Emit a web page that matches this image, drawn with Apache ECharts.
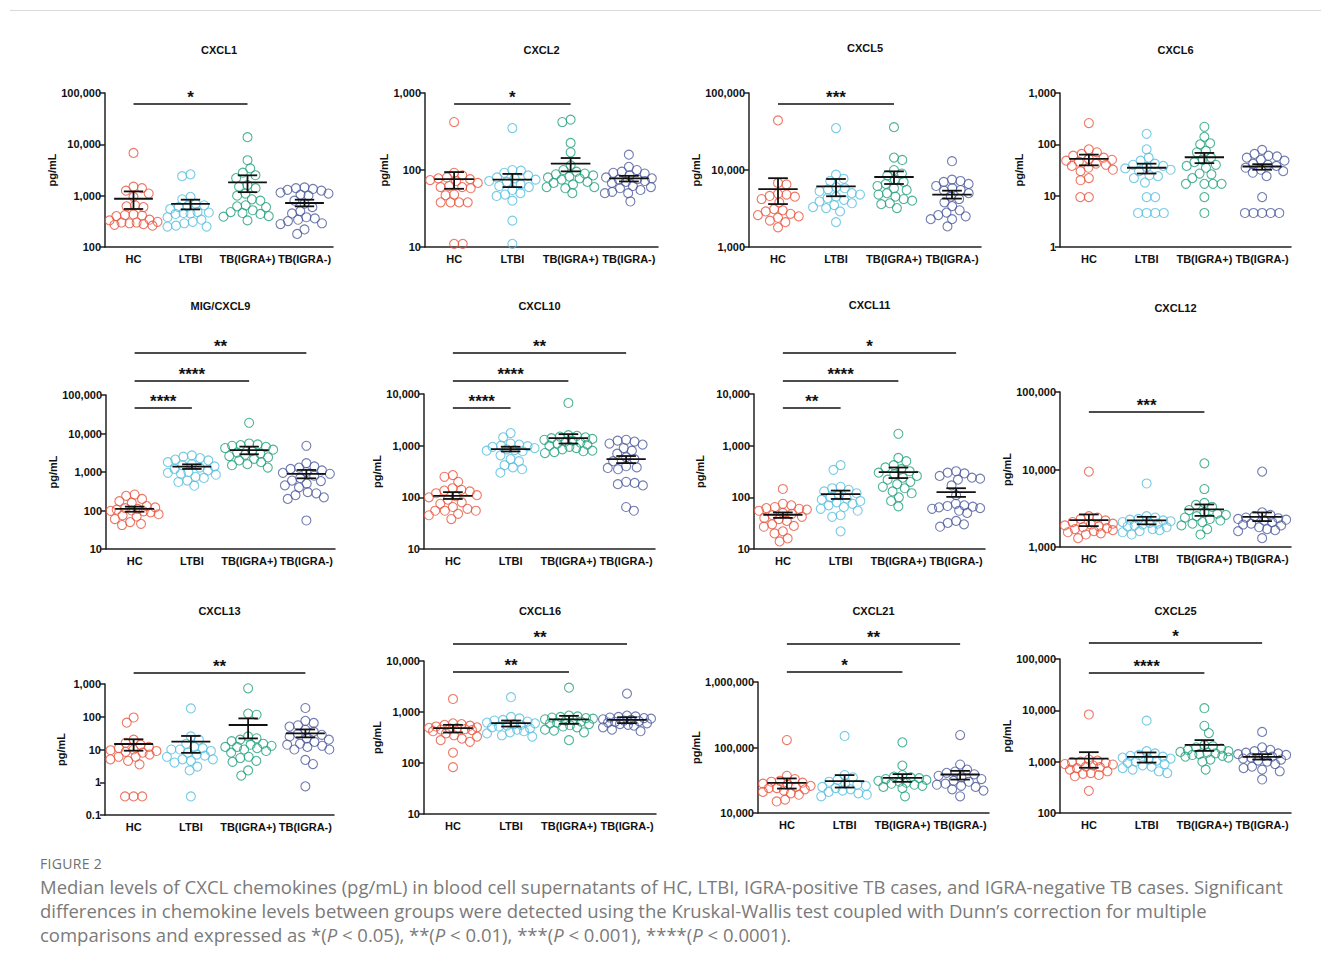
<!DOCTYPE html>
<html>
<head>
<meta charset="utf-8">
<script src="https://cdn.jsdelivr.net/npm/echarts@6/dist/echarts.min.js"></script>
<style>
  html, body { margin: 0; padding: 0; background: #fff; width: 1331px; height: 967px; overflow: hidden; }
  #chart { position: absolute; left: 0; top: 0; width: 1331px; height: 850px; }
  #frame { position: absolute; left: 10px; top: 10px; width: 1311px; height: 0; border-top: 1px solid #d9d9d9; z-index: 5; }
  #fig { position: absolute; left: 40px; top: 854px; font-family: "Open Sans", "Noto Sans", sans-serif; font-size: 14px; color: #707070; letter-spacing: 0.3px; }
  #cap { position: absolute; left: 40px; top: 875px; font-family: "Open Sans", "Noto Sans", sans-serif; font-size: 18.5px; line-height: 24px; color: #7a7a7a; white-space: nowrap; }
</style>
</head>
<body>
<div id="chart"></div>
<div id="frame"></div>
<div id="fig">FIGURE 2</div>
<div id="cap">Median levels of CXCL chemokines (pg/mL) in blood cell supernatants of HC, LTBI, IGRA-positive TB cases, and IGRA-negative TB cases. Significant<br>differences in chemokine levels between groups were detected using the Kruskal-Wallis test coupled with Dunn’s correction for multiple<br>comparisons and expressed as *(<i>P</i> &lt; 0.05), **(<i>P</i> &lt; 0.01), ***(<i>P</i> &lt; 0.001), ****(<i>P</i> &lt; 0.0001).</div>
<script>
// ---------------- DATA ----------------
const CATS = ['HC', 'LTBI', 'TB(IGRA+)', 'TB(IGRA-)'];
const PANELS = ['CXCL1', 'CXCL2', 'CXCL5', 'CXCL6', 'MIG/CXCL9', 'CXCL10', 'CXCL11', 'CXCL12', 'CXCL13', 'CXCL16', 'CXCL21', 'CXCL25'];
const Y_MIN = [100, 10, 1000, 1, 10, 10, 10, 1000, 0.1, 10, 10000, 100];
const Y_MAX = [100000, 1000, 100000, 1000, 100000, 10000, 10000, 100000, 1000, 10000, 1000000, 100000];

const CXCL1_HC   = [6800,1500,1400,1250,1100,950,650,620,600,430,420,410,400,340,330,310,300,300,290,280,270,260];
const CXCL1_LTBI = [2600,2400,950,850,700,650,620,600,550,480,470,460,450,440,380,340,310,290,260,250,250];
const CXCL1_TBP  = [13800,4900,3400,2800,2500,2200,1600,1500,1400,1100,1000,850,800,650,620,600,520,480,460,440,400,390,330];
const CXCL1_TBN  = [1450,1400,1350,1300,1250,1150,1100,1050,1000,800,700,600,500,450,380,360,340,320,290,280,220,180];

const CXCL2_HC   = [420,92,85,80,78,76,74,72,68,62,60,60,58,48,47,38,38,38,38,11,11];
const CXCL2_LTBI = [350,100,98,92,85,80,78,75,72,70,65,62,60,55,50,48,46,40,22,11];
const CXCL2_TBP  = [450,420,225,170,115,100,95,90,88,85,82,80,78,75,70,68,65,60,60,58,50];
const CXCL2_TBN  = [158,110,100,95,92,90,85,80,78,76,75,72,70,68,62,60,58,55,52,50,50,39];

const CXCL5_HC   = [44000,6800,6500,4900,4800,4600,4500,4200,3800,3100,3000,2900,2700,2600,2500,2400,2200,2100,1800];
const CXCL5_LTBI = [35000,8700,7700,7200,6000,5800,5600,5300,5000,4800,4500,4300,4100,3900,3700,3500,3300,3200,2900,2100];
const CXCL5_TBP  = [36000,14500,13500,10000,9000,8500,7500,7000,6600,6200,5800,5500,5000,4800,4500,4200,4000,3700,3600,3200];
const CXCL5_TBN  = [13000,7500,7200,7000,6600,6200,5800,5500,5400,5000,4500,4200,3800,3400,3000,2800,2600,2500,2300,2300,1850];

const CXCL6_HC   = [260,80,70,65,60,55,52,50,48,46,42,40,38,35,32,30,22,20,9.4,9.4];
const CXCL6_LTBI = [160,80,55,48,42,40,38,36,34,32,30,25,24,22,18,9.4,9.4,4.6,4.6,4.6,4.6];
const CXCL6_TBP  = [220,140,105,100,75,70,55,50,45,40,38,35,27,26,22,17,17,17,17,9.4,4.6];
const CXCL6_TBN  = [78,65,60,58,55,50,48,42,40,38,35,32,30,28,24,9.4,4.6,4.6,4.6,4.6,4.6];

const CXCL9_HC   = [260,240,200,175,160,130,120,115,110,105,100,98,95,90,80,75,70,60,50,45,42];
const CXCL9_LTBI = [2700,2500,2300,2100,2000,1800,1600,1500,1400,1300,1200,1100,1000,950,900,850,750,700,600,550,440];
const CXCL9_TBP  = [19000,5500,5200,5000,4800,4500,4200,3800,3500,3200,3000,2800,2600,2400,2200,2000,1800,1600,1500,1300];
const CXCL9_TBN  = [4800,1700,1400,1300,1200,1100,1000,950,900,800,700,600,580,500,450,400,300,280,250,220,200,55];

const CXCL10_HC   = [270,250,200,150,140,135,130,120,110,105,100,90,80,75,65,60,55,55,55,48,45,38];
const CXCL10_LTBI = [1750,1450,1100,1050,1000,980,950,900,850,820,800,780,650,550,500,420,380,350,300];
const CXCL10_TBP  = [6700,1600,1550,1500,1450,1400,1350,1300,1250,1200,1150,1100,1050,1000,950,900,850,800,780,750,720];
const CXCL10_TBN  = [1300,1250,1200,1100,1050,900,800,700,600,550,500,400,380,370,350,200,190,180,170,65,55];

const CXCL11_HC   = [145,75,70,65,62,60,58,55,50,48,45,42,40,38,35,30,28,27,22,20,16,14];
const CXCL11_LTBI = [420,340,160,150,140,130,120,110,100,95,90,85,80,75,70,65,60,55,45,42,22];
const CXCL11_TBP  = [1700,580,500,420,380,350,320,300,280,260,240,220,200,180,160,150,130,120,100,85,67];
const CXCL11_TBN  = [320,300,290,260,240,230,220,170,110,75,70,68,66,64,62,60,55,50,35,32,30,27];

const CXCL12_HC   = [9400,2500,2400,2300,2200,2100,2000,1950,1900,1850,1800,1750,1700,1650,1600,1550,1500,1450,1300];
const CXCL12_LTBI = [6600,2500,2400,2300,2250,2200,2150,2100,2050,2000,1950,1900,1850,1800,1700,1650,1600,1550,1450];
const CXCL12_TBP  = [12000,5600,3700,3500,3300,3000,2800,2700,2600,2500,2400,2300,2200,2100,2000,1900,1700,1450];
const CXCL12_TBN  = [9400,2800,2600,2500,2400,2350,2300,2250,2200,2100,2000,1950,1900,1800,1700,1650,1600,1300];

const CXCL13_HC   = [95,66,20,16,14,12,11,10,9.5,9,8.5,8,7,6,6,5,4.5,3.5,0.37,0.37,0.37];
const CXCL13_LTBI = [180,25,20,15,12,11,10,10,9,8,7,6.5,6,5,5,4.5,4,3,2.3,0.37];
const CXCL13_TBP  = [740,125,115,25,22,20,18,15,14,13,12,12,11,10,9,8,6,5.5,4.5,4.2,2.3,1.6];
const CXCL13_TBN  = [185,75,65,55,50,40,35,30,28,25,22,20,17,15,14,13,12,10,10,4.8,3.6,0.75];

const CXCL16_HC   = [1800,600,580,560,540,520,500,490,480,470,460,450,440,420,380,350,330,300,280,260,160,83];
const CXCL16_LTBI = [1950,800,750,700,680,650,620,600,580,560,540,520,500,480,450,420,400,380,350,330];
const CXCL16_TBP  = [3000,850,820,800,780,760,740,720,700,680,650,620,600,580,550,520,500,450,430,400,280];
const CXCL16_TBN  = [2300,850,820,800,780,760,740,720,700,680,660,640,620,600,580,560,540,500,450,420];

const CXCL21_HC   = [130000,37000,33000,31000,30000,29000,28000,27000,26000,25000,24000,24000,23000,22000,21000,20000,19000,16000,15000];
const CXCL21_LTBI = [150000,38000,35000,32000,30000,28000,27000,26000,25000,24000,23000,22000,21000,20000,19000,18000];
const CXCL21_TBP  = [120000,53000,38000,36000,35000,34000,33000,32000,31000,30000,29000,28000,27000,26000,25000,24000,18000];
const CXCL21_TBN  = [155000,55000,46000,43000,41000,39000,37000,35000,33000,31000,30000,28000,27000,26000,25000,23000,22000,18000];

const CXCL25_HC   = [8300,1100,1050,1000,980,950,900,880,850,800,780,750,700,650,600,580,550,520,270];
const CXCL25_LTBI = [6300,1600,1450,1350,1300,1250,1200,1150,1100,1050,1000,950,900,850,800,750,700,650,600];
const CXCL25_TBP  = [11000,5000,3600,2100,2000,1900,1800,1700,1600,1550,1500,1450,1400,1350,1300,1250,1200,1100,1000,700];
const CXCL25_TBN  = [3800,1900,1700,1600,1500,1450,1400,1350,1300,1250,1200,1150,1100,1050,1000,900,800,750,700,650,450];

// median, lower, upper per group
const STATS_CXCL1  = [[870,550,1210],[690,540,835],[1820,1170,2490],[720,620,835]];
const STATS_CXCL2  = [[76,57,94],[75,60,89],[121,96,143],[78,71,84]];
const STATS_CXCL5  = [[5660,3610,7830],[6140,4560,7640],[8110,6580,9600],[4790,4250,5390]];
const STATS_CXCL6  = [[52,39,63],[35,27,42],[56,43,68],[37,32,41]];
const STATS_CXCL9  = [[110,93,126],[1380,1200,1580],[3720,2890,4560],[890,685,1130]];
const STATS_CXCL10 = [[107,93,126],[858,774,953],[1400,1100,1670],[550,460,630]];
const STATS_CXCL11 = [[46,40,51],[115,93,135],[307,236,378],[126,102,150]];
const STATS_CXCL12 = [[2220,1860,2630],[2200,1960,2450],[3050,2520,3540],[2450,2160,2790]];
const STATS_CXCL13 = [[14.7,9.2,20.5],[17.3,7.9,25.9],[56,21.8,89],[31,23.5,41]];
const STATS_CXCL16 = [[481,396,560],[606,519,680],[720,586,840],[700,606,790]];
const STATS_CXCL21 = [[28900,23600,33700],[30600,24500,37900],[34400,29900,39200],[38700,32400,44000]];
const STATS_CXCL25 = [[1150,760,1530],[1240,960,1510],[2130,1620,2630],[1240,1100,1400]];

// significance: [fromGroup, toGroup, label]
const SIG = [
  [[0,2,'*']], [[0,2,'*']], [[0,2,'***']], [],
  [[0,1,'****'],[0,2,'****'],[0,3,'**']],
  [[0,1,'****'],[0,2,'****'],[0,3,'**']],
  [[0,1,'**'],[0,2,'****'],[0,3,'*']],
  [[0,2,'***']],
  [[0,3,'**']],
  [[0,2,'**'],[0,3,'**']],
  [[0,2,'*'],[0,3,'**']],
  [[0,2,'****'],[0,3,'*']]
];

const DATA = [
  [CXCL1_HC, CXCL1_LTBI, CXCL1_TBP, CXCL1_TBN],
  [CXCL2_HC, CXCL2_LTBI, CXCL2_TBP, CXCL2_TBN],
  [CXCL5_HC, CXCL5_LTBI, CXCL5_TBP, CXCL5_TBN],
  [CXCL6_HC, CXCL6_LTBI, CXCL6_TBP, CXCL6_TBN],
  [CXCL9_HC, CXCL9_LTBI, CXCL9_TBP, CXCL9_TBN],
  [CXCL10_HC, CXCL10_LTBI, CXCL10_TBP, CXCL10_TBN],
  [CXCL11_HC, CXCL11_LTBI, CXCL11_TBP, CXCL11_TBN],
  [CXCL12_HC, CXCL12_LTBI, CXCL12_TBP, CXCL12_TBN],
  [CXCL13_HC, CXCL13_LTBI, CXCL13_TBP, CXCL13_TBN],
  [CXCL16_HC, CXCL16_LTBI, CXCL16_TBP, CXCL16_TBN],
  [CXCL21_HC, CXCL21_LTBI, CXCL21_TBP, CXCL21_TBN],
  [CXCL25_HC, CXCL25_LTBI, CXCL25_TBP, CXCL25_TBN]
];
const STATS = [STATS_CXCL1, STATS_CXCL2, STATS_CXCL5, STATS_CXCL6, STATS_CXCL9, STATS_CXCL10,
               STATS_CXCL11, STATS_CXCL12, STATS_CXCL13, STATS_CXCL16, STATS_CXCL21, STATS_CXCL25];

// ---------------- LAYOUT / STYLE ----------------
const COLORS = ['#E8553F', '#55BEDF', '#22A07A', '#4C5A9C'];
const GRIDS = [
  {left:105, top:93, width:228, height:154, gap:43},
  {left:425, top:93, width:233, height:154, gap:36},
  {left:749, top:93, width:232, height:154, gap:46},
  {left:1060, top:93, width:231, height:154, gap:35},
  {left:106, top:395, width:229, height:154, gap:44},
  {left:424, top:394, width:231, height:155, gap:40},
  {left:754, top:394, width:231, height:155, gap:49},
  {left:1060, top:392, width:231, height:155, gap:37},
  {left:105, top:684, width:229, height:131, gap:39},
  {left:424, top:661, width:232, height:153, gap:42},
  {left:758, top:682, width:231, height:131, gap:55},
  {left:1060, top:659, width:231, height:154, gap:39}
];
const TITLE_Y = [44,44,42,44, 300,300,299,302, 605,605,605,605];
const BRACKET_Y = [[104],[104],[104],[], [408,381,353],[408,381,353],[408,381,353],[412],[673],[672,644],[672,644],[673,643]];
const FONT = '"Liberation Sans", Arial, Helvetica, sans-serif';
const DOT = 9, MIN_DIST = 8.6, MAX_W = 24;

function swarm(vals, lo, hi, H) {
  const pts = vals.map(v => ({v: v, y: (Math.log10(v) - lo) / (hi - lo) * H, x: 0}));
  const order = pts.slice().sort((a, b) => b.y - a.y);
  const placed = [];
  order.forEach((p, k) => {
    const near = placed.filter(q => Math.abs(q.y - p.y) < MIN_DIST);
    const cands = [0];
    near.forEach(q => {
      const dx = Math.sqrt(MIN_DIST * MIN_DIST - (q.y - p.y) * (q.y - p.y));
      cands.push(q.x + dx, q.x - dx);
    });
    cands.sort((a, b) => Math.abs(a) - Math.abs(b) || (k % 2 ? a - b : b - a));
    let found = false;
    for (const c of cands) {
      if (Math.abs(c) > MAX_W) continue;
      if (near.every(q => (q.x - c) * (q.x - c) + (q.y - p.y) * (q.y - p.y) >= MIN_DIST * MIN_DIST - 1e-6)) { p.x = c; found = true; break; }
    }
    if (!found) {
      // no free slot inside the allowed width: take the least crowded position
      let best = 0, bestD = -1;
      for (let c = -MAX_W; c <= MAX_W; c += 1) {
        let dmin = Infinity;
        near.forEach(q => { dmin = Math.min(dmin, Math.hypot(q.x - c, q.y - p.y)); });
        if (dmin > bestD + 1e-6 || (Math.abs(dmin - bestD) < 1e-6 && Math.abs(c) < Math.abs(best))) { bestD = dmin; best = c; }
      }
      p.x = best;
    }
    placed.push(p);
  });
  return pts;
}

const fmt = v => Number(Number(v).toPrecision(6)).toLocaleString('en-US', {maximumFractionDigits: 4});

const option = {
  animation: false,
  backgroundColor: 'transparent',
  title: [], grid: [], xAxis: [], yAxis: [], series: []
};

PANELS.forEach((name, p) => {
  const g = GRIDS[p];
  option.grid.push({left: g.left, top: g.top, width: g.width, height: g.height, containLabel: false});
  option.title.push({
    text: name, left: g.left + g.width / 2, top: TITLE_Y[p], textAlign: 'center', padding: 0,
    textStyle: {fontFamily: FONT, fontWeight: 'bold', fontSize: 11, color: '#111'}
  });
  option.xAxis.push({
    type: 'category', gridIndex: p, data: CATS, boundaryGap: true, position: 'bottom',
    axisLine: {show: true, onZero: false, lineStyle: {color: '#222', width: 1.5}},
    axisTick: {show: false},
    axisLabel: {fontFamily: FONT, fontWeight: 'bold', fontSize: 11, color: '#111', margin: 6, interval: 0},
    splitLine: {show: false}
  });
  option.xAxis.push({type: 'value', gridIndex: p, min: -0.5, max: 3.5, show: false});
  option.yAxis.push({
    type: 'log', logBase: 10, gridIndex: p, min: Y_MIN[p], max: Y_MAX[p], position: 'left',
    name: 'pg/mL', nameLocation: 'middle', nameRotate: 90, nameGap: g.gap,
    nameTextStyle: {fontFamily: FONT, fontWeight: 'bold', fontSize: 11, color: '#111'},
    axisLine: {show: true, onZero: false, lineStyle: {color: '#222', width: 1.5}},
    axisTick: {show: true, length: 5, lineStyle: {color: '#222', width: 1.5}},
    minorTick: {show: false},
    splitLine: {show: false},
    axisLabel: {fontFamily: FONT, fontWeight: 'bold', fontSize: 11, color: '#111', margin: 4, formatter: fmt}
  });
  const lo = Math.log10(Y_MIN[p]), hi = Math.log10(Y_MAX[p]);
  const unitPx = g.width / 4;
  DATA[p].forEach((vals, gi) => {
    const pts = swarm(vals, lo, hi, g.height);
    option.series.push({
      type: 'scatter', xAxisIndex: 2 * p + 1, yAxisIndex: p, symbol: 'circle', symbolSize: DOT,
      silent: true, z: 2,
      itemStyle: {color: 'rgba(255,255,255,0)', borderColor: COLORS[gi], borderWidth: 1.1},
      data: pts.map(pt => [gi + pt.x / unitPx, pt.v])
    });
  });
  option.series.push({
    type: 'custom', xAxisIndex: 2 * p + 1, yAxisIndex: p, silent: true, z: 4,
    data: STATS[p].map((s, gi) => [gi, s[0], s[1], s[2]]),
    renderItem: (params, api) => {
      const gi = api.value(0);
      const m = api.coord([gi, api.value(1)]);
      const l = api.coord([gi, api.value(2)]);
      const h = api.coord([gi, api.value(3)]);
      const u = api.coord([gi + 1, api.value(1)])[0] - m[0];
      const mw = 0.34 * u, cw = 0.17 * u;
      const st = {stroke: '#111', lineWidth: 1.8};
      return {type: 'group', children: [
        {type: 'line', shape: {x1: m[0] - mw, y1: m[1], x2: m[0] + mw, y2: m[1]}, style: st},
        {type: 'line', shape: {x1: m[0], y1: l[1], x2: m[0], y2: h[1]}, style: st},
        {type: 'line', shape: {x1: m[0] - cw, y1: h[1], x2: m[0] + cw, y2: h[1]}, style: st},
        {type: 'line', shape: {x1: m[0] - cw, y1: l[1], x2: m[0] + cw, y2: l[1]}, style: st}
      ]};
    }
  });
  if (SIG[p].length) {
    option.series.push({
      type: 'custom', xAxisIndex: 2 * p + 1, yAxisIndex: p, silent: true, z: 5, clip: false,
      data: SIG[p].map((s, k) => [s[0], s[1], k]),
      renderItem: (params, api) => {
        const a = api.coord([api.value(0), Y_MIN[p]]);
        const b = api.coord([api.value(1), Y_MIN[p]]);
        const k = api.value(2);
        const y = BRACKET_Y[p][k];
        const label = SIG[p][k][2];
        return {type: 'group', children: [
          {type: 'line', shape: {x1: a[0], y1: y, x2: b[0], y2: y}, style: {stroke: '#111', lineWidth: 1.3}},
          {type: 'text', x: (a[0] + b[0]) / 2, y: y - 7,
           style: {text: label, textAlign: 'center', align: 'center', textVerticalAlign: 'middle', verticalAlign: 'middle',
                   font: 'bold 17px ' + FONT, fill: '#111'}}
        ]};
      }
    });
  }
});

const chart = echarts.init(document.getElementById('chart'), null, {renderer: 'svg'});
chart.setOption(option);
</script>
</body>
</html>
